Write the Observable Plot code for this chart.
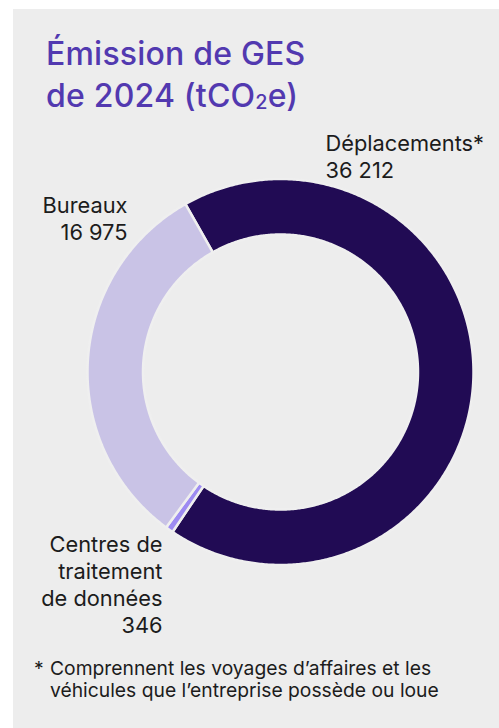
<!DOCTYPE html>
<html><head><meta charset="utf-8">
<script src="https://cdn.jsdelivr.net/npm/d3@7"></script>
<script src="https://cdn.jsdelivr.net/npm/@observablehq/plot@0.6"></script>
<style>
html,body{margin:0;padding:0;background:#fff;width:499px;height:728px;overflow:hidden;}
#panel{position:absolute;left:13px;top:9px;width:486px;height:719px;background:#ededed;}
#title{position:absolute;left:46px;top:33px;margin:0;font:500 32px/42px Inter, "Liberation Sans", sans-serif;color:#5239b0;white-space:nowrap;letter-spacing:0.2px;}
#title sub{font-size:0.62em;vertical-align:-0.12em;line-height:0;}
#chart{position:absolute;left:0;top:118px;}
#note{position:absolute;left:34px;top:657px;font:400 19.3px/22px Inter, "Liberation Sans", sans-serif;color:#1c1c1c;display:flex;white-space:nowrap;}
#note .star{width:16px;}
</style>
</head><body>
<div id="panel"></div>
<h2 id="title">Émission de GES<br>de 2024 (tCO<sub>2</sub>e)</h2>
<div id="chart"></div>
<div id="note"><span class="star">*</span><span>Comprennent les voyages d’affaires et les<br>véhicules que l’entreprise possède ou loue</span></div>
<script>
// Data
const categories = ["Déplacements*", "Centres de traitement de données", "Bureaux"];
const values = [36212, 346, 16975];
const labelLines = ["Déplacements*", "Centres de\ntraitement\nde données", "Bureaux"];
const colors = ["#210b54", "#9d8bf2", "#c9c3e6"];

// Layout
const W = 499, H = 527, TOP = 118;
const cx = 280, cy = 371.5 - TOP, R = 193, innerRatio = 137.5 / 193;
const startDeg = -29.5;
const labelLayout = [
  {anchor: "start", px: 325, baseline: 147},
  {anchor: "end", px: 162, baseline: 548},
  {anchor: "end", px: 127, baseline: 209}
];
const fontSize = 21.8, lineGap = 27;

const fmt = d3.formatLocale({decimal: ",", thousands: "\u00a0", grouping: [3], currency: ["", " €"]}).format(",d");

const arcs = d3.pie().sort(null)
  .startAngle(startDeg * Math.PI / 180)
  .endAngle(startDeg * Math.PI / 180 + 2 * Math.PI)(values);

const pts = [];
arcs.forEach((a, i) => {
  const n = Math.max(3, Math.ceil((a.endAngle - a.startAngle) / (Math.PI / 360)) + 1);
  for (let k = 0; k < n; k++) {
    const t = a.startAngle + (a.endAngle - a.startAngle) * k / (n - 1);
    pts.push({cat: categories[i], x: Math.sin(t), y: Math.cos(t)});
  }
  for (let k = n - 1; k >= 0; k--) {
    const t = a.startAngle + (a.endAngle - a.startAngle) * k / (n - 1);
    pts.push({cat: categories[i], x: innerRatio * Math.sin(t), y: innerRatio * Math.cos(t)});
  }
});

const labels = categories.map((c, i) => ({
  text: labelLines[i] + "\n" + fmt(values[i]),
  anchor: labelLayout[i].anchor,
  x: (labelLayout[i].px - cx) / R,
  y: (cy - (labelLayout[i].baseline - TOP - 0.71 * fontSize)) / R
}));

const textOpts = a => ({
  x: "x", y: "y", text: "text", textAnchor: a, lineAnchor: "top",
  lineHeight: lineGap / fontSize, fontSize, fill: "#1c1c1c",
  fontFamily: "Inter, 'Liberation Sans', sans-serif"
});

const chart = Plot.plot({
  width: W, height: H, margin: 0,
  style: {background: "transparent", overflow: "visible"},
  x: {domain: [-cx / R, (W - cx) / R], range: [0, W], axis: null},
  y: {domain: [cy / R, (cy - H) / R], range: [0, H], axis: null},
  color: {domain: categories, range: colors},
  marks: [
    Plot.line(pts, {x: "x", y: "y", z: "cat", fill: "cat", stroke: "#efefef", strokeWidth: 2.5, curve: "linear-closed"}),
    Plot.text(labels.filter(d => d.anchor === "start"), textOpts("start")),
    Plot.text(labels.filter(d => d.anchor === "end"), textOpts("end"))
  ]
});
document.getElementById("chart").appendChild(chart);
</script>
</body></html>
